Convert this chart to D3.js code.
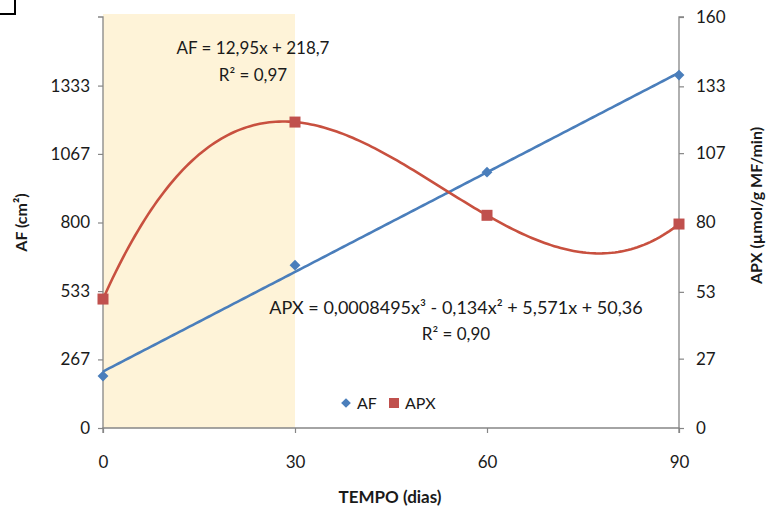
<!DOCTYPE html>
<html><head><meta charset="utf-8">
<script src="https://cdn.jsdelivr.net/npm/d3@7"></script>
<style>
html,body{margin:0;padding:0;background:#fff;}
svg text{font-family:Lato,"Open Sans",sans-serif;fill:#1a1a1a;}
</style></head>
<body>
<script>
// ---- data ----
const days = [0, 30, 60, 90];
const afValues = [202, 634, 996, 1374];
const apxValues = [50.2, 119.1, 82.8, 79.4];
const leftTicks = [0, 267, 533, 800, 1067, 1333];
const rightTicks = [0, 27, 53, 80, 107, 133, 160];
const xTicks = [0, 30, 60, 90];
const highlightRange = [0, 30];
const afEquation = ["AF = 12,95x + 218,7", "R\u00B2 = 0,97"];
const apxEquation = ["APX = 0,0008495x\u00B3 - 0,134x\u00B2 + 5,571x + 50,36", "R\u00B2 = 0,90"];

const W = 768, H = 509;
const m = {left: 103, right: 768 - 679, top: 17, bottom: 509 - 428};
const svg = d3.select("body").append("svg").attr("width", W).attr("height", H);

const x = d3.scaleLinear().domain([0, 90]).range([m.left, W - m.right]);
const yL = d3.scaleLinear().domain([0, 1600]).range([H - m.bottom, m.top]);
const yR = d3.scaleLinear().domain([0, 160]).range([H - m.bottom, m.top]);

// least-squares polynomial fit (trendline)
function polyfit(xs, ys, deg) {
  const n = deg + 1;
  const A = Array.from({length: n}, () => new Array(n + 1).fill(0));
  for (let i = 0; i < n; i++) {
    for (let j = 0; j < n; j++) A[i][j] = d3.sum(xs, v => Math.pow(v, i + j));
    A[i][n] = d3.sum(xs, (v, k) => ys[k] * Math.pow(v, i));
  }
  for (let c = 0; c < n; c++) {
    let p = c;
    for (let r = c + 1; r < n; r++) if (Math.abs(A[r][c]) > Math.abs(A[p][c])) p = r;
    [A[c], A[p]] = [A[p], A[c]];
    for (let r = 0; r < n; r++) {
      if (r === c) continue;
      const f = A[r][c] / A[c][c];
      for (let k = c; k <= n; k++) A[r][k] -= f * A[c][k];
    }
  }
  const coef = A.map((row, i) => row[n] / row[i]);
  return t => coef.reduce((s, cc, i) => s + cc * Math.pow(t, i), 0);
}

// top-left corner mark
svg.append("path").attr("d", "M0,14 H15 V0").attr("fill", "none").attr("stroke", "#000").attr("stroke-width", 2);

// highlight band
svg.append("rect")
  .attr("x", x(highlightRange[0])).attr("y", 14)
  .attr("width", x(highlightRange[1]) - x(highlightRange[0]))
  .attr("height", yL(0) - 14)
  .attr("fill", "#FEF3D8");

// axes
const axisColor = "#868686";
const gL = svg.append("g").attr("transform", `translate(${x(0)},0)`)
  .call(d3.axisLeft(yL).tickValues(leftTicks).tickSize(5).tickPadding(8).tickFormat(d3.format("d")));
const gR = svg.append("g").attr("transform", `translate(${x(90)},0)`)
  .call(d3.axisRight(yR).tickValues(rightTicks).tickSize(5).tickPadding(12).tickFormat(d3.format("d")));
const gX = svg.append("g").attr("transform", `translate(0,${yL(0)})`)
  .call(d3.axisBottom(x).tickValues(xTicks).tickSize(5).tickPadding(23).tickFormat(d3.format("d")));
[gL, gR, gX].forEach(g => {
  g.select(".domain").attr("stroke", axisColor).attr("stroke-width", 1.3);
  g.selectAll(".tick line").attr("stroke", axisColor).attr("stroke-width", 1.2);
  g.selectAll(".tick text").style("font-size", "17px").style("font-family", "Lato, sans-serif").attr("fill", "#1a1a1a");
});
gL.select(".domain").attr("d", `M-5,${yL(1600)}H0V${yL(0)}H0`);
gR.select(".domain").attr("d", `M5,${yR(160)}H0V${yR(0)}H0`);
gX.select(".domain").attr("d", `M${x(0)},5V0H${x(90)}V5`);

// axis titles
svg.append("text").attr("transform", `translate(27,${(yL(0)+yL(1600))/2}) rotate(-90)`)
  .attr("text-anchor", "middle").style("font-size", "16px").style("font-weight", "bold")
  .text("AF (cm\u00B2)");
svg.append("text").attr("transform", `translate(762,${(yL(0)+yL(1600))/2 - 17}) rotate(-90)`)
  .attr("text-anchor", "middle").style("font-size", "16px").style("font-weight", "bold")
  .text("APX (\u00B5mol/g MF/min)");
svg.append("text").attr("x", (x(0)+x(90))/2 - 1).attr("y", 503)
  .attr("text-anchor", "middle").style("font-size", "17px").style("font-weight", "bold")
  .text("TEMPO (dias)");

// trendlines
const afFit = polyfit(days, afValues, 1);
const apxFit = polyfit(days, apxValues, 3);
const xs = d3.range(0, 90.01, 0.5);
svg.append("path").datum(xs)
  .attr("d", d3.line().x(d => x(d)).y(d => yL(afFit(d))))
  .attr("fill", "none").attr("stroke", "#4A7EBB").attr("stroke-width", 2.6);
svg.append("path").datum(xs)
  .attr("d", d3.line().x(d => x(d)).y(d => yR(apxFit(d))))
  .attr("fill", "none").attr("stroke", "#C8503F").attr("stroke-width", 2.6);

// markers
const diamond = d3.symbol().type(d3.symbolDiamond2).size(75);
svg.append("g").selectAll("path").data(days).join("path")
  .attr("d", diamond)
  .attr("transform", (d, i) => `translate(${x(d)},${yL(afValues[i])})`)
  .attr("fill", "#4A7EBB");
svg.append("g").selectAll("rect").data(days).join("rect")
  .attr("x", d => x(d) - 5.5).attr("y", (d, i) => yR(apxValues[i]) - 5.5)
  .attr("width", 11).attr("height", 11).attr("fill", "#C0504D");

// equations
const eq = svg.append("g").style("font-size", "17px");
eq.append("text").attr("x", 253).attr("y", 54).attr("text-anchor", "middle").text(afEquation[0]);
eq.append("text").attr("x", 253).attr("y", 81).attr("text-anchor", "middle").text(afEquation[1]);
eq.append("text").attr("x", 456).attr("y", 314).attr("text-anchor", "middle").style("font-size", "18px").text(apxEquation[0]);
eq.append("text").attr("x", 456).attr("y", 340).attr("text-anchor", "middle").text(apxEquation[1]);

// legend
const lg = svg.append("g").style("font-size", "16px");
lg.append("path").attr("d", d3.symbol().type(d3.symbolDiamond2).size(60)).attr("transform", "translate(346,403)").attr("fill", "#4A7EBB");
lg.append("text").attr("x", 357).attr("y", 409).text("AF");
lg.append("rect").attr("x", 389).attr("y", 398).attr("width", 10).attr("height", 10).attr("fill", "#C0504D");
lg.append("text").attr("x", 405).attr("y", 409).text("APX");
</script>
</body></html>
